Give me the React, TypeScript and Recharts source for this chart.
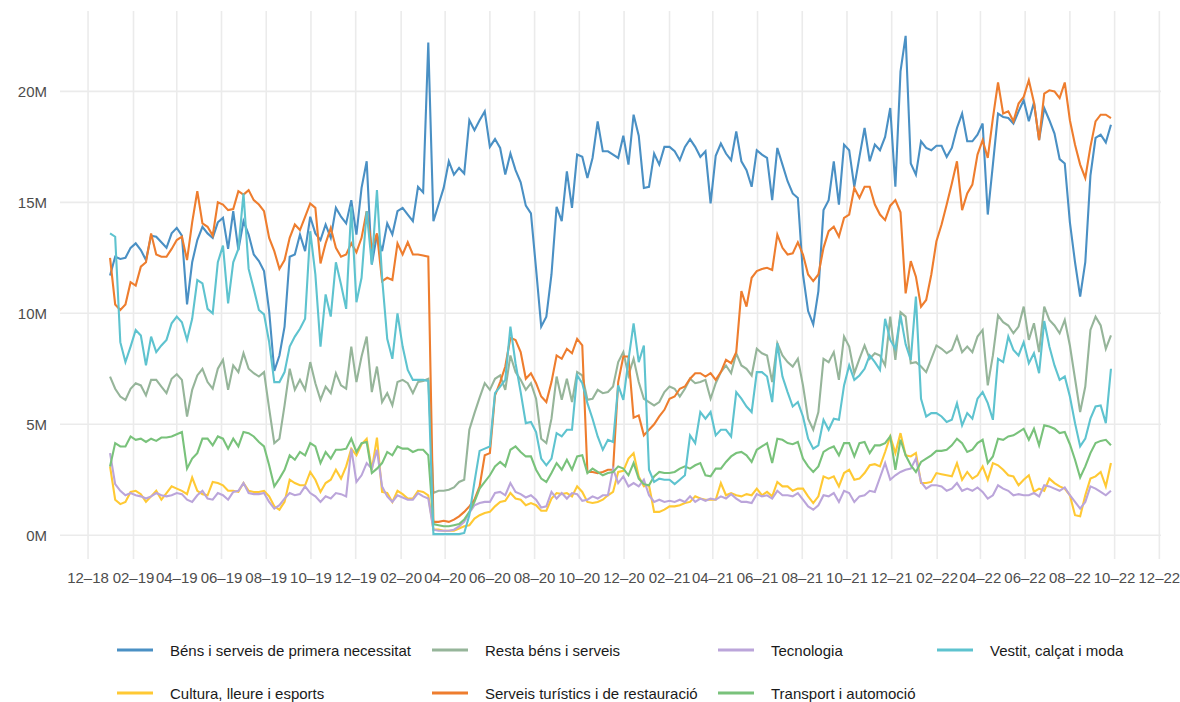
import { LineChart, Line, XAxis, YAxis, ReferenceLine } from 'recharts';

// weekly values, millions, first week starts Mon 31 Dec 2018
const START = Date.UTC(2018, 11, 31);
const WEEK = 7 * 24 * 3600 * 1000;

const bens = [
  11.7, 12.55, 12.45, 12.5, 12.95, 13.15, 12.85, 12.4, 13.5, 13.45, 13.2, 12.95, 13.6, 13.85, 13.5, 10.4,
  12.3, 13.3, 13.9, 13.6, 13.4, 14.1, 14.3, 12.9, 14.6, 12.85, 14.15, 13.55, 12.65, 12.35, 11.9, 10.1,
  7.4, 8.1, 9.4, 12.55, 12.65, 13.55, 12.8, 14.35, 13.6, 13.3, 14.0, 13.4, 14.75, 14.35, 14.05, 15.1,
  13.55, 15.65, 16.85, 12.2, 13.55, 12.8, 14.05, 13.55, 14.6, 14.75, 14.45, 14.15, 15.7, 15.45, 22.2, 14.15,
  14.9, 15.65, 16.85, 16.25, 16.55, 16.3, 18.7, 18.25, 18.7, 19.1, 17.5, 17.85, 17.45, 16.25, 17.2, 16.45,
  15.9, 14.85, 14.5, 12.0, 9.4, 9.85, 11.75, 14.8, 14.15, 16.4, 14.75, 17.15, 17.05, 16.1, 17.0, 18.65,
  17.3, 17.3, 17.15, 17.0, 18.0, 16.7, 18.95, 18.0, 15.65, 15.7, 17.2, 16.7, 17.5, 17.5, 17.3, 16.9,
  17.5, 17.85, 17.5, 17.05, 17.3, 14.95, 17.1, 17.65, 17.2, 16.9, 18.2, 16.85, 16.45, 15.7, 17.35, 17.15,
  17.0, 15.1, 17.45, 16.7, 15.95, 15.4, 15.2, 11.75, 10.1, 9.5, 11.0, 14.65, 15.1, 16.85, 14.9, 17.6,
  17.35, 15.7, 17.05, 18.35, 16.85, 17.6, 17.35, 17.95, 19.25, 15.7, 20.9, 22.5, 16.75, 16.25, 17.75, 17.45,
  17.35, 17.55, 17.55, 17.05, 17.45, 18.35, 19.0, 17.75, 17.75, 18.05, 18.55, 14.45, 16.7, 19.0, 18.85, 18.8,
  18.55, 19.1, 19.6, 18.65, 19.5, 17.8, 19.25, 18.7, 18.1, 16.95, 16.75, 14.1, 12.3, 10.75, 12.3, 16.2,
  17.9, 18.05, 17.7, 18.5,
];

const cultura = [
  3.1, 1.6, 1.4, 1.5, 1.95, 2.0, 1.85, 1.5, 1.75, 2.0, 1.6, 1.9, 2.2, 2.1, 2.0, 1.85,
  2.6, 2.0, 1.85, 1.8, 2.4, 2.35, 2.25, 2.0, 2.0, 1.95, 2.35, 2.0, 1.95, 1.95, 2.0, 1.75,
  1.3, 1.15, 1.5, 2.5, 2.35, 2.25, 2.25, 2.85, 2.5, 1.95, 2.35, 2.5, 2.95, 2.55, 3.1, 3.9,
  3.6, 4.1, 4.35, 2.95, 4.4, 1.95, 1.9, 1.5, 2.0, 1.85, 1.65, 1.65, 2.0, 1.95, 1.8, 0.25,
  0.25, 0.2, 0.2, 0.2, 0.3, 0.4, 0.45, 0.75, 0.9, 1.0, 1.05, 1.3, 1.5, 1.55, 1.9, 1.65,
  1.6, 1.35, 1.45, 1.35, 1.1, 1.1, 1.65, 1.9, 1.85, 1.9, 1.75, 2.2, 1.95, 1.5, 1.45, 1.5,
  1.6, 1.8, 1.95, 2.85, 2.9, 3.45, 3.7, 2.65, 2.2, 2.25, 1.05, 1.05, 1.15, 1.3, 1.3, 1.35,
  1.45, 1.5, 1.75, 1.65, 1.6, 1.6, 1.6, 2.35, 1.8, 1.9, 1.8, 1.75, 1.85, 1.8, 2.1, 1.8,
  1.95, 1.75, 2.4, 2.2, 2.2, 2.0, 2.1, 2.1, 1.75, 1.45, 1.75, 2.65, 2.55, 2.65, 2.2, 2.8,
  2.95, 2.5, 2.55, 2.8, 3.15, 3.2, 3.1, 3.75, 4.45, 3.7, 4.6, 3.6, 3.55, 3.7, 2.35, 2.35,
  2.4, 2.8, 2.75, 2.7, 2.65, 3.25, 2.5, 2.85, 2.55, 2.7, 3.1, 2.5, 3.25, 3.15, 2.95, 2.7,
  2.65, 2.25, 2.5, 2.7, 1.95, 2.1, 2.0, 2.55, 2.35, 2.2, 2.1, 1.8, 0.9, 0.85, 1.8, 2.55,
  2.65, 2.85, 2.2, 3.25,
];

const resta = [
  7.15, 6.6, 6.25, 6.1, 6.6, 6.85, 6.75, 6.3, 7.0, 7.0, 6.7, 6.4, 7.05, 7.25, 7.0, 5.35,
  6.55, 7.2, 7.5, 6.9, 6.6, 7.5, 7.9, 6.55, 7.65, 7.35, 8.2, 7.5, 7.3, 7.15, 7.35, 5.7,
  4.15, 4.35, 5.85, 7.5, 6.55, 7.0, 6.55, 7.8, 6.85, 6.1, 6.7, 6.4, 7.3, 6.75, 6.6, 8.5,
  6.9, 8.05, 8.95, 6.45, 7.6, 6.0, 6.4, 5.85, 6.9, 7.0, 6.85, 6.4, 6.9, 6.95, 7.05, 1.9,
  2.0, 2.0, 2.05, 2.15, 2.4, 2.5, 4.75, 5.5, 6.2, 6.85, 6.55, 7.05, 7.2, 6.55, 8.1, 7.35,
  7.0, 6.55, 6.85, 6.15, 4.35, 4.15, 5.25, 7.15, 6.1, 7.05, 6.0, 7.35, 7.2, 6.1, 6.15, 6.55,
  6.4, 6.45, 6.7, 7.8, 8.25, 7.2, 7.95, 6.9, 6.15, 6.0, 5.85, 6.0, 6.45, 6.7, 6.6, 6.25,
  6.6, 7.05, 6.85, 6.9, 7.0, 6.15, 6.85, 7.35, 7.65, 7.3, 8.2, 7.65, 7.5, 7.2, 8.4, 8.2,
  8.1, 6.9, 8.65, 8.1, 7.8, 7.6, 7.95, 6.75, 5.25, 4.75, 5.55, 7.95, 7.8, 8.25, 7.0, 8.95,
  8.5, 7.3, 7.95, 8.55, 7.95, 8.2, 8.1, 7.65, 9.85, 7.9, 10.05, 9.85, 7.75, 7.8, 7.6, 7.35,
  7.95, 8.55, 8.4, 8.2, 8.35, 8.95, 8.25, 8.5, 8.25, 8.95, 9.25, 6.75, 8.1, 9.9, 9.6, 9.45,
  9.1, 9.4, 10.3, 8.8, 9.55, 8.25, 10.3, 9.7, 9.45, 9.1, 9.7, 8.55, 7.05, 5.55, 6.7, 9.25,
  9.85, 9.45, 8.4, 9.0,
];

const serveis = [
  12.5, 10.4, 10.15, 10.4, 11.4, 11.25, 12.1, 12.3, 13.6, 12.65, 12.55, 12.55, 12.9, 13.3, 13.45, 12.4,
  14.1, 15.5, 14.05, 13.9, 13.5, 15.0, 14.9, 14.65, 14.7, 15.5, 15.35, 15.55, 15.1, 14.9, 14.6, 13.4,
  12.8, 12.0, 12.4, 13.4, 14.0, 13.75, 14.35, 14.95, 14.75, 12.25, 13.15, 13.85, 12.95, 12.55, 12.65, 13.15,
  12.75, 13.4, 14.6, 12.9, 13.6, 11.45, 11.6, 11.5, 13.15, 12.65, 13.2, 12.65, 12.65, 12.6, 12.55, 0.6,
  0.6, 0.65, 0.6, 0.7, 0.85, 1.05, 1.3, 1.6, 2.2, 3.6, 3.7, 6.3, 6.9, 7.6, 8.9, 8.8,
  8.25, 7.05, 7.3, 6.85, 6.25, 6.0, 6.9, 8.1, 7.95, 8.4, 8.2, 8.85, 8.55, 2.85, 2.85, 2.8,
  2.85, 2.95, 2.95, 6.9, 8.05, 8.05, 5.3, 5.4, 4.5, 4.75, 5.0, 5.35, 5.65, 6.15, 6.25, 6.6,
  6.7, 7.05, 7.3, 7.3, 7.15, 7.3, 7.0, 7.35, 7.9, 7.75, 8.25, 11.0, 10.3, 11.6, 11.9, 12.0,
  12.05, 11.95, 13.55, 12.95, 12.65, 12.7, 13.2, 12.65, 11.75, 11.45, 11.75, 12.95, 13.7, 13.9, 13.45, 14.3,
  14.45, 15.65, 15.2, 15.7, 15.7, 14.9, 14.45, 14.2, 14.85, 15.1, 14.55, 10.9, 12.35, 11.65, 10.3, 10.6,
  11.75, 13.25, 14.0, 14.9, 15.85, 16.85, 14.65, 15.4, 15.8, 17.15, 17.8, 17.0, 18.8, 20.4, 19.0, 19.1,
  18.65, 19.45, 19.75, 20.5, 19.5, 17.8, 19.9, 20.05, 20.0, 19.7, 20.4, 18.7, 17.6, 16.7, 16.1, 17.5,
  18.65, 18.95, 18.95, 18.8,
];

const tecnologia = [
  3.7, 2.3, 2.0, 1.8, 1.9, 1.8, 1.75, 1.65, 1.75, 1.9, 1.8, 1.75, 1.8, 1.9, 1.85, 1.6,
  1.5, 1.8, 2.0, 1.65, 1.6, 1.9, 1.8, 1.6, 1.95, 2.0, 2.35, 1.9, 1.85, 1.85, 1.9, 1.5,
  1.2, 1.35, 1.65, 1.9, 1.8, 1.85, 2.2, 1.9, 1.75, 1.5, 1.75, 1.65, 1.9, 1.85, 1.75, 3.9,
  2.4, 2.7, 3.25, 3.0, 3.85, 2.2, 1.75, 1.5, 1.8, 1.7, 1.6, 1.6, 1.9, 1.75, 1.65, 0.25,
  0.2, 0.2, 0.2, 0.25, 0.4, 0.6, 1.0, 1.35, 1.45, 1.5, 1.5, 1.9, 1.95, 1.8, 2.35, 1.95,
  1.85, 1.7, 1.8, 1.6, 1.25, 1.3, 1.95, 1.65, 1.9, 1.65, 1.9, 1.85, 1.55, 1.6, 1.75, 1.65,
  1.8, 1.8, 3.0, 2.35, 2.65, 2.2, 2.35, 2.2, 2.5, 1.8, 1.5, 1.6, 1.5, 1.55, 1.5, 1.6,
  1.5, 1.75, 1.5, 1.65, 1.55, 1.65, 1.6, 1.75, 1.65, 1.85, 1.65, 1.5, 1.5, 1.45, 1.85, 1.75,
  1.8, 1.65, 2.0, 1.8, 1.8, 1.75, 1.9, 1.6, 1.3, 1.15, 1.35, 1.8, 1.75, 1.9, 1.5, 2.0,
  1.9, 1.5, 1.75, 1.8, 2.0, 1.95, 2.6, 3.25, 2.5, 2.7, 2.85, 2.95, 3.0, 3.45, 2.4, 2.1,
  2.25, 2.25, 2.2, 2.0, 2.1, 2.35, 2.0, 2.1, 2.0, 2.15, 1.95, 1.65, 1.8, 2.25, 2.1, 2.0,
  1.8, 1.85, 1.8, 1.8, 1.9, 1.75, 2.25, 2.2, 2.1, 2.0, 2.15, 1.8, 1.5, 1.2, 1.5, 2.2,
  2.1, 1.95, 1.8, 2.0,
];

const transport = [
  3.1, 4.15, 4.0, 4.0, 4.45, 4.3, 4.35, 4.2, 4.35, 4.25, 4.4, 4.4, 4.45, 4.55, 4.65, 3.0,
  3.45, 3.7, 4.35, 4.35, 4.05, 4.45, 4.35, 3.9, 4.35, 4.0, 4.65, 4.6, 4.45, 4.2, 4.0, 3.15,
  2.2, 2.55, 2.95, 3.6, 3.4, 3.75, 3.6, 4.15, 4.0, 3.25, 3.75, 3.45, 3.85, 3.85, 3.9, 4.35,
  3.75, 4.15, 4.2, 2.8, 3.0, 3.25, 3.75, 3.6, 4.0, 3.9, 3.9, 3.75, 3.85, 3.85, 3.6, 0.5,
  0.45, 0.4, 0.4, 0.45, 0.5, 0.7, 1.05, 1.5, 2.1, 2.4, 2.7, 3.1, 3.3, 3.1, 3.85, 4.0,
  3.75, 3.55, 3.55, 2.95, 2.55, 2.4, 2.8, 3.25, 2.95, 3.4, 2.95, 3.55, 3.6, 2.8, 3.0, 2.85,
  2.7, 2.8, 2.85, 3.1, 3.0, 2.7, 3.25, 2.55, 2.3, 2.25, 2.65, 2.85, 2.8, 2.8, 2.85, 3.0,
  3.1, 3.0, 3.15, 3.25, 2.7, 2.65, 3.0, 3.0, 3.3, 3.55, 3.7, 3.75, 3.6, 3.3, 3.85, 4.0,
  4.15, 3.25, 4.35, 4.3, 4.15, 4.1, 4.2, 3.45, 3.1, 2.85, 3.1, 3.75, 3.9, 4.0, 3.6, 4.15,
  4.15, 3.55, 4.15, 4.2, 3.7, 4.05, 4.05, 4.15, 4.45, 2.95, 4.3, 3.6, 3.15, 2.85, 3.3, 3.45,
  3.6, 3.8, 3.8, 3.85, 4.05, 4.35, 4.15, 3.75, 3.85, 4.15, 4.3, 3.25, 3.55, 4.35, 4.3, 4.45,
  4.5, 4.65, 4.8, 4.3, 4.8, 4.05, 4.95, 4.9, 4.8, 4.6, 4.65, 4.1, 3.4, 2.6, 3.1, 3.7,
  4.15, 4.25, 4.3, 4.05,
];

const vestit = [
  13.6, 13.45, 8.7, 7.8, 8.5, 9.25, 9.0, 7.65, 8.95, 8.25, 8.55, 8.8, 9.55, 9.85, 9.6, 8.8,
  9.75, 11.5, 11.35, 10.2, 10.0, 12.3, 13.05, 10.45, 12.3, 12.9, 15.4, 12.0, 11.1, 10.15, 9.95, 8.7,
  6.9, 6.9, 7.35, 8.5, 8.95, 9.3, 9.75, 13.7, 11.75, 8.5, 10.85, 9.85, 12.3, 11.3, 10.2, 14.8,
  10.5, 11.6, 14.6, 12.2, 15.55, 11.6, 8.85, 7.95, 10.0, 8.5, 7.45, 7.0, 7.0, 7.0, 6.95, 0.05,
  0.05, 0.05, 0.05, 0.05, 0.05, 0.1, 0.9, 2.4, 3.8, 3.9, 4.0, 6.4, 6.7, 7.0, 9.4, 7.75,
  6.45, 5.05, 5.1, 4.65, 3.45, 3.15, 3.45, 4.6, 4.45, 4.75, 4.75, 7.2, 6.85, 5.95, 5.25, 4.45,
  3.85, 4.3, 4.2, 6.75, 6.1, 7.9, 9.55, 7.8, 8.55, 2.95, 2.4, 2.55, 2.5, 2.5, 2.3, 2.5,
  2.7, 4.5, 4.15, 5.55, 5.25, 5.55, 4.5, 4.75, 4.75, 4.45, 6.45, 6.15, 5.8, 5.55, 7.35, 7.35,
  7.15, 6.0, 8.65, 7.15, 6.45, 5.8, 6.0, 5.35, 4.35, 3.9, 4.05, 5.2, 4.75, 5.25, 5.2, 6.75,
  7.65, 7.0, 7.2, 7.5, 8.1, 7.8, 7.45, 9.75, 8.8, 8.4, 9.9, 8.6, 7.9, 10.75, 6.15, 5.35,
  5.5, 5.5, 5.35, 5.1, 5.2, 5.95, 4.95, 5.5, 5.25, 6.15, 6.45, 5.95, 5.2, 7.95, 7.8, 8.95,
  8.35, 8.1, 8.7, 7.75, 8.2, 7.3, 9.65, 8.5, 7.65, 7.0, 7.15, 6.25, 5.05, 4.0, 4.35, 5.25,
  5.8, 5.85, 5.05, 7.5,
];

const tickDates = [
  '2018-12-01', '2019-02-01', '2019-04-01', '2019-06-01', '2019-08-01', '2019-10-01', '2019-12-01',
  '2020-02-01', '2020-04-01', '2020-06-01', '2020-08-01', '2020-10-01', '2020-12-01',
  '2021-02-01', '2021-04-01', '2021-06-01', '2021-08-01', '2021-10-01', '2021-12-01',
  '2022-02-01', '2022-04-01', '2022-06-01', '2022-08-01', '2022-10-01', '2022-12-01',
];
const yTicks = [0, 5, 10, 15, 20];

const series = [
  { key: 'bens', name: 'Béns i serveis de primera necessitat', color: '#4A90C4', values: bens },
  { key: 'cultura', name: 'Cultura, lleure i esports', color: '#FFC934', values: cultura },
  { key: 'resta', name: 'Resta béns i serveis', color: '#96B59A', values: resta },
  { key: 'serveis', name: 'Serveis turístics i de restauració', color: '#EE7D2E', values: serveis },
  { key: 'tecnologia', name: 'Tecnologia', color: '#BBA5DA', values: tecnologia },
  { key: 'transport', name: 'Transport i automoció', color: '#79C27B', values: transport },
  { key: 'vestit', name: 'Vestit, calçat i moda', color: '#5EC3CF', values: vestit },
];

// legend rows as in the picture (two rows, four columns)
const legendRows = [
  ['bens', 'resta', 'tecnologia', 'vestit'],
  ['cultura', 'serveis', 'transport'],
];

const tickTimes = tickDates.map((d) => Date.parse(d));

const data = bens.map((_, i) => {
  const row: Record<string, number> = { t: START + i * WEEK };
  series.forEach((s) => {
    row[s.key] = s.values[i];
  });
  return row;
});

// ggplot-like 5% expansion
const tMin = data[0].t;
const tMax = data[data.length - 1].t;
const tPad = (tMax - tMin) * 0.05;
const allValues = series.flatMap((s) => s.values);
const vMin = Math.min(...allValues);
const vMax = Math.max(...allValues);
const vPad = (vMax - vMin) * 0.05;

const fmtMonth = (t: number) => {
  const d = new Date(t);
  const mm = String(d.getUTCMonth() + 1).padStart(2, '0');
  const yy = String(d.getUTCFullYear() % 100).padStart(2, '0');
  return `${mm}–${yy}`;
};

const font = '"Liberation Sans", Arial, Helvetica, sans-serif';
const gridColor = '#EBEBEB';

function ChartLegend() {
  const colX = [117, 432, 718, 937];
  const rowY = [650, 693];
  return (
    <>
      {legendRows.map((row, r) =>
        row.map((key, c) => {
          const s = series.find((x) => x.key === key)!;
          return (
            <div
              key={key}
              style={{
                position: 'absolute',
                left: colX[c],
                top: rowY[r] - 10,
                height: 20,
                display: 'flex',
                alignItems: 'center',
                fontFamily: font,
                fontSize: 15,
                color: '#1a1a1a',
                whiteSpace: 'nowrap',
              }}
            >
              <svg width={36} height={4} style={{ marginRight: 17 }}>
                <line x1={0} y1={2} x2={36} y2={2} stroke={s.color} strokeWidth={3} />
              </svg>
              {s.name}
            </div>
          );
        })
      )}
    </>
  );
}

export default function App() {
  return (
    <div style={{ position: 'absolute', left: 0, top: 0, width: 1180, height: 702, background: '#fff' }}>
      <LineChart
        width={1180}
        height={702}
        data={data}
        margin={{ top: 11, right: 19, left: 0, bottom: 113 }}
      >
        <XAxis
          dataKey="t"
          type="number"
          domain={[tMin - tPad, tMax + tPad]}
          allowDataOverflow
          ticks={tickTimes}
          tickFormatter={fmtMonth}
          axisLine={false}
          tickLine={false}
          height={30}
          tickMargin={7}
          interval={0}
          tick={{ fill: '#4D4D4D', fontSize: 15, fontFamily: font }}
        />
        <YAxis
          type="number"
          domain={[vMin - vPad, vMax + vPad]}
          allowDataOverflow
          ticks={yTicks}
          tickFormatter={(v: number) => `${v}M`}
          axisLine={false}
          tickLine={false}
          width={60}
          tickMargin={7}
          tick={{ fill: '#4D4D4D', fontSize: 15, fontFamily: font }}
        />
        {/* panel grid, only at the tick values */}
        {tickTimes.map((t) => (
          <ReferenceLine key={`gx${t}`} x={t} stroke={gridColor} strokeWidth={1.6} />
        ))}
        {yTicks.map((v) => (
          <ReferenceLine key={`gy${v}`} y={v} stroke={gridColor} strokeWidth={1.6} />
        ))}
        {series.map((s) => (
          <Line
            key={s.key}
            dataKey={s.key}
            name={s.name}
            type="linear"
            stroke={s.color}
            strokeWidth={2.1}
            dot={false}
            activeDot={false}
            isAnimationActive={false}
          />
        ))}
      </LineChart>
      <ChartLegend />
    </div>
  );
}
